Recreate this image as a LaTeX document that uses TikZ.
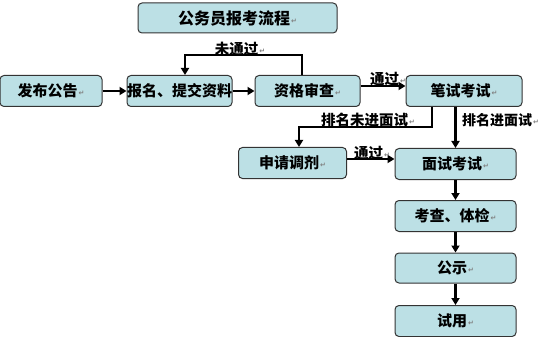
\documentclass[tikz,border=0pt]{standalone}
\usepackage{fontspec}
\setmainfont{Noto Sans CJK SC}
\newfontfamily\symf{DejaVu Sans}
\usetikzlibrary{arrows.meta}
\definecolor{boxfill}{HTML}{BCE0E5}
\definecolor{boxline}{HTML}{333333}
\newcommand{\parmk}{\hspace{1pt}{\symf\fontsize{7}{7}\selectfont\color{gray}\raisebox{1pt}{↵}}}
\begin{document}
\begin{tikzpicture}[x=1pt,y=-1pt,
  box/.style={draw=boxline,line width=1pt,fill=boxfill,rounded corners=4pt,
    inner sep=0pt,font=\fontsize{15}{15}\selectfont\bfseries},
  arr/.style={line width=2.2pt,-{Triangle[length=7pt,width=8pt]}},
  lbl/.style={inner sep=0pt,font=\fontsize{14.5}{15}\selectfont\bfseries}]
\useasboundingbox (0,0) rectangle (539,337);
\node[box,minimum width=199pt,minimum height=30pt,font=\fontsize{16}{16}\selectfont\bfseries] (t) at (237.5,18) {公务员报考流程\parmk};
\node[box,minimum width=102pt,minimum height=31pt] (fb) at (51,91) {发布公告\parmk};
\node[box,minimum width=105pt,minimum height=31pt] (bm) at (179.5,91) {报名、提交资料};
\node[box,minimum width=105pt,minimum height=31pt] (zg) at (307.5,91) {资格审查\parmk};
\node[box,minimum width=116pt,minimum height=31pt] (bs) at (464,91) {笔试考试\parmk};
\node[box,minimum width=108pt,minimum height=31pt] (sq) at (292.5,163) {申请调剂\parmk};
\node[box,minimum width=121pt,minimum height=31pt] (ms) at (455.5,164) {面试考试\parmk};
\node[box,minimum width=121pt,minimum height=31pt] (kc) at (455.5,216) {考查、体检\parmk};
\node[box,minimum width=121pt,minimum height=30pt] (gs) at (455.5,268) {公示\parmk};
\node[box,minimum width=121pt,minimum height=31pt] (sy) at (455.5,321) {试用\parmk};
\draw[arr] (fb.east) -- (bm.west);
\draw[arr] (bm.east) -- (zg.west);
\coordinate (c1) at (302,55);
\coordinate (c2) at (185,55);
\draw[arr] (zg.north -| c1) -- (c1) -- (c2) -- (bm.north -| c2);
\node[lbl,anchor=south] (l1) at (240,56) {未通过\parmk};
\coordinate (c3) at (0,86);
\draw[arr] (zg.east |- c3) -- (bs.west |- c3);
\node[lbl,anchor=south] (l2) at (388,86) {通过\parmk};
\coordinate (c4) at (432,127);
\coordinate (c5) at (299,127);
\draw[arr] (bs.south -| c4) -- (c4) -- (c5) -- (sq.north -| c5);
\node[lbl] (l3) at (368,120) {排名未进面试\parmk};
\draw[arr] (bs.south -| ms.north) -- (ms.north);
\node[lbl,anchor=west,font=\fontsize{14}{14}\selectfont\bfseries] (l4) at (462,120) {排名进面试\parmk};
\coordinate (c6) at (0,159);
\draw[arr] (sq.east |- c6) -- (ms.west |- c6);
\node[lbl,anchor=south] (l5) at (372,160) {通过\parmk};
\draw[arr] (ms.south) -- (kc.north);
\draw[arr] (kc.south) -- (gs.north);
\draw[arr] (gs.south) -- (sy.north);
\end{tikzpicture}
\end{document}
